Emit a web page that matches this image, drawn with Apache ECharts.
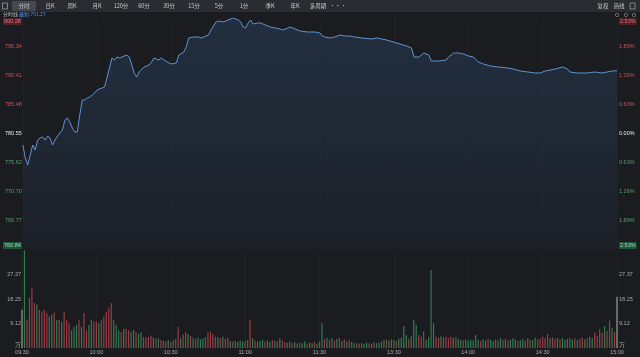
<!DOCTYPE html>
<html><head><meta charset="utf-8">
<script src="https://cdn.jsdelivr.net/npm/echarts@6/dist/echarts.min.js"></script>
<style>html,body{margin:0;padding:0;background:#1b1c20}#c{width:640px;height:357px}</style>
</head><body><div id="c"></div>
<script>
const timeLabels = ['09:30','10:00','10:30','11:00','11:30','13:30','14:00','14:30','15:00'];
const basePrice = 780.55;
const priceTicks = [760.84, 765.77, 770.70, 775.62, 780.55, 785.48, 790.41, 795.34, 800.28];
const volTicks = [0, 9.12, 18.25, 27.37];
const toolbarItems = ['分时','日K','周K','月K','120分','60分','30分','15分','5分','1分','季K','年K','多周期','···'];
const legendName = '分时线';
const latestPrice = '791.27';

const priceMinutes = [0,1,2,3,4,5,6,7,8,9,10,11,12,13,14,15,16,17,18,19,20,21,22,23,24,25,26,27,28,29,30,32,33,34,36,37,38,39,40,42,43,44,45,46,47,49,51,52,53,55,56,57,59,60,62,63,65,66,67,69,71,72,73,75,76,78,79,81,82,83,85,87,88,89,90,91,92,93,95,96,98,100,102,104,105,107,108,110,112,115,118,120,121,122,124,126,128,130,132,134,137,141,143,147,151,155,157,158,160,162,164,165,168,171,172,174,176,178,180,182,184,186,189,192,196,198,201,204,207,209,211,213,215,218,220,221,224,228,231,234,236,238,240];
const priceValues = [778.60,776.38,775.18,776.89,778.60,777.74,779.45,779.79,779.96,779.45,780.13,779.79,778.60,779.45,780.13,780.65,781.16,782.86,783.21,782.52,781.50,780.82,780.82,783.72,786.28,786.28,786.62,786.79,787.13,787.47,787.99,788.33,788.50,790.04,793.45,793.11,793.62,793.45,793.62,793.96,793.62,792.26,790.89,790.21,791.06,791.91,792.26,792.77,793.45,793.11,793.45,793.11,792.60,792.43,792.60,793.96,794.47,795.33,796.87,797.04,797.04,796.87,797.04,797.38,798.23,799.60,799.77,799.60,799.77,799.94,800.28,799.94,799.60,798.74,798.57,799.43,799.94,799.26,799.43,799.43,799.08,798.74,798.57,798.40,798.23,798.57,798.74,798.40,798.06,797.89,797.89,797.72,797.21,797.04,796.87,797.04,797.38,797.21,797.21,797.04,796.87,796.69,796.87,796.52,796.01,795.50,795.16,793.62,793.62,794.30,793.96,792.94,792.94,793.11,793.62,794.30,794.30,794.13,793.79,793.62,792.77,792.43,792.08,791.91,791.74,791.57,791.23,791.06,790.89,790.89,791.23,791.40,791.57,791.91,791.57,791.06,790.89,790.89,791.06,790.89,791.06,791.23,791.27];

const volumes = [
14.2,36.4,10.5,18.7,22.5,16.8,16.2,14.2,13.5,14.2,
13.0,11.6,12.3,13.2,10.4,10.4,9.8,13.5,10.4,9.2,
6.6,7.9,8.6,10.4,7.9,13.0,6.6,8.6,10.4,9.8,
9.8,9.2,10.4,11.6,13.5,14.8,16.8,10.4,8.6,6.6,
6.0,7.2,7.2,6.6,6.0,6.8,6.0,5.3,6.0,4.1,
3.8,4.1,4.7,3.8,3.5,3.5,3.0,2.6,2.4,3.0,
2.2,2.8,3.4,7.8,3.6,5.0,6.0,5.2,4.4,3.6,
3.4,3.8,3.2,3.6,4.0,5.8,6.1,5.2,4.2,4.0,
3.6,4.2,3.4,3.8,2.6,2.4,2.6,2.2,2.8,2.4,
2.6,3.0,10.4,3.6,2.8,2.4,2.6,3.0,2.4,2.8,
2.2,3.0,2.6,2.4,3.6,2.8,2.2,2.0,2.4,1.8,
2.2,1.6,2.0,1.8,2.4,1.6,2.0,1.8,2.2,1.6,
2.4,9.2,3.4,3.8,3.0,3.6,2.8,3.4,3.8,2.6,
3.2,2.4,2.8,2.2,1.8,2.0,1.6,1.8,1.6,2.0,
1.8,1.6,2.2,1.8,2.0,2.4,3.0,3.2,2.8,3.2,
3.0,2.6,3.4,3.8,8.2,4.8,3.4,4.6,10.4,8.6,
4.8,4.2,6.1,3.0,4.0,29.0,9.2,4.2,3.8,4.4,
4.0,4.2,3.6,4.2,3.8,4.0,3.4,3.0,2.8,3.2,
2.6,3.0,2.8,4.8,3.0,2.6,3.2,2.8,3.4,3.0,
2.6,3.2,2.8,3.6,3.0,3.4,2.8,3.0,3.6,3.2,
2.6,3.0,3.4,2.8,3.6,3.2,3.0,3.8,3.2,3.6,
4.2,3.8,5.2,3.6,4.0,3.4,3.8,3.2,3.6,3.0,
3.4,3.8,3.2,3.6,3.0,3.4,3.8,3.2,3.6,4.2,
3.8,5.8,4.6,7.0,5.6,8.2,6.2,10.2,7.4,6.0,19.1];
// u = up minute (red), d = down minute (green), n = neutral (grey)
const volDirs = [
'nduuuuduuu','uddududuuu','ddduduuddu','uduuuuuddd',
'uduudduddu','uuudududud','uduuduudud','uddduuuuud',
'uduududddd','uuududddud','dududuuddu','ddudduddud',
'ddudududud','ududdudddd','ududdddudd','duddddudd d'.replace(' ',''),
'uuudddduud','uuuududdud','ddddduddud','duddududdd',
'uddududduu','uuuduududd','ddduduudud','duuuuduudun'
].join('');

const C_UP = '#c8545b', C_DN = '#4fa36c';
const fmtPrice = v => v.toFixed(2);
const pct = v => (Math.abs(v - basePrice) / basePrice * 100).toFixed(2) + '%';
const styleKey = (v) => {
  if (Math.abs(v - basePrice) < 0.01) return 'b';
  if (Math.abs(v - priceTicks[priceTicks.length-1]) < 0.01) return 'ut';
  if (Math.abs(v - priceTicks[0]) < 0.01) return 'dt';
  return v > basePrice ? 'u' : 'd';
};
const FS = 5.5, FF = '"Liberation Sans", Arial, sans-serif';
const rich = {
  u:{color:C_UP,fontSize:FS,fontFamily:FF},
  d:{color:C_DN,fontSize:FS,fontFamily:FF},
  b:{color:'#e8e8e8',fontSize:FS,fontFamily:FF},
  ut:{color:'#e6707a',backgroundColor:'#4a2328',fontSize:FS,fontFamily:FF,padding:[0.5,1]},
  dt:{color:'#a8d8b8',backgroundColor:'#1f5538',fontSize:FS,fontFamily:FF,padding:[0.5,1]}
};

const lineData = priceMinutes.map((m, i) => [m, priceValues[i]]);
const volData = volumes.map((v, i) => {
  const d = volDirs[i] || 'n';
  const col = d === 'u' ? '#983d45' : d === 'd' ? '#317c4f' : '#9a9a9a';
  return {value: [i, v], itemStyle: {color: col}};
});

const G0 = {left: 22, right: 23, top: 18, height: 231};
const G1 = {left: 22, right: 23, top: 250, height: 98};

const graphics = [
  {type:'rect', shape:{x:0,y:0,width:640,height:12}, style:{fill:'#2a2c31'}, z:10},
  {type:'rect', shape:{x:12,y:1,width:24,height:10,r:1}, style:{fill:'#45484e'}, z:11},
  {type:'rect', shape:{x:2.5,y:3,width:5,height:6}, style:{fill:'none',stroke:'#9a9a9a',lineWidth:0.8}, z:11},
  {type:'rect', shape:{x:630,y:3,width:5,height:6}, style:{fill:'none',stroke:'#9a9a9a',lineWidth:0.8}, z:11},
  {type:'text', x:603, y:6, style:{text:'复权', fill:'#c8c8c8', font:'5.5px "Noto Sans CJK SC"', textAlign:'center', textVerticalAlign:'middle'}, z:12},
  {type:'text', x:619, y:6, style:{text:'画线', fill:'#c8c8c8', font:'5.5px "Noto Sans CJK SC"', textAlign:'center', textVerticalAlign:'middle'}, z:12},
  {type:'text', x:3, y:14.5, style:{text:legendName, fill:'#b8b8b8', font:'5px "Noto Sans CJK SC"', textVerticalAlign:'middle'}, z:12},
  {type:'text', x:19, y:14.5, style:{text:'最新:' + latestPrice, fill:'#4d8fe0', font:'5px "Noto Sans CJK SC"', textVerticalAlign:'middle'}, z:12}
];
const tbCenters = [24, 50, 72, 97, 121, 144, 169, 194, 219, 244, 270, 295, 318, 338];
toolbarItems.forEach((t, i) => {
  graphics.push({type:'text', x:tbCenters[i], y:6, style:{text:t, fill:'#c8c8c8', font:'5.5px "Noto Sans CJK SC"', textAlign:'center', textVerticalAlign:'middle'}, z:12});
});
[617, 626, 634].forEach(x => graphics.push({type:'circle', shape:{cx:x, cy:15, r:1.7}, style:{fill:'none', stroke:'#8a8a8a', lineWidth:0.7}, z:12}));

const chart = echarts.init(document.getElementById('c'), null, {renderer:'canvas'});
chart.setOption({
  backgroundColor: '#1b1c20',
  animation: false,
  grid: [G0, G1],
  graphic: graphics,
  xAxis: [
    {type:'value', gridIndex:0, min:0, max:240, interval:30,
     axisLine:{show:false}, axisTick:{show:false}, axisLabel:{show:false},
     splitLine:{show:true, lineStyle:{color:'rgba(255,255,255,0.025)', width:1}}},
    {type:'value', gridIndex:1, min:0, max:240, interval:30,
     axisLine:{show:false}, axisTick:{show:false},
     axisLabel:{show:true, color:'#a8a8a8', fontSize:FS, fontFamily:FF, margin:1.5,
       showMinLabel:true, showMaxLabel:true,
       formatter: v => timeLabels[Math.round(v / 30)] || ''},
     splitLine:{show:true, lineStyle:{color:'rgba(255,255,255,0.025)', width:1}}}
  ],
  yAxis: [
    {type:'value', gridIndex:0, position:'left', min:priceTicks[0], max:priceTicks[priceTicks.length-1], scale:true,
     axisLine:{show:false}, axisTick:{show:false}, splitLine:{show:false},
     axisLabel:{show:true, customValues:priceTicks, margin:1, align:'right',
       verticalAlignMaxLabel:'top', verticalAlignMinLabel:'bottom',
       formatter:(v) => '{' + styleKey(v) + '|' + fmtPrice(v) + '}', rich:rich}},
    {type:'value', gridIndex:0, position:'right', min:priceTicks[0], max:priceTicks[priceTicks.length-1], scale:true,
     axisLine:{show:false}, axisTick:{show:false}, splitLine:{show:false},
     axisLabel:{show:true, customValues:priceTicks, margin:2, align:'left',
       verticalAlignMaxLabel:'top', verticalAlignMinLabel:'bottom',
       formatter:(v) => '{' + styleKey(v) + '|' + pct(v) + '}', rich:rich}},
    {type:'value', gridIndex:1, position:'left', min:0, max:36.49,
     axisLine:{show:false}, axisTick:{show:false}, splitLine:{show:false},
     axisLabel:{show:true, customValues:volTicks, margin:1, align:'right', color:'#a8a8a8', fontSize:FS, fontFamily:FF,
       verticalAlignMinLabel:'bottom',
       formatter:(v) => v === 0 ? '万' : v.toFixed(2)}},
    {type:'value', gridIndex:1, position:'right', min:0, max:36.49,
     axisLine:{show:false}, axisTick:{show:false}, splitLine:{show:false},
     axisLabel:{show:true, customValues:volTicks, margin:2, align:'left', color:'#a8a8a8', fontSize:FS, fontFamily:FF,
       verticalAlignMinLabel:'bottom',
       formatter:(v) => v === 0 ? '万' : v.toFixed(2)}}
  ],
  series: [
    {type:'line', xAxisIndex:0, yAxisIndex:0, data:lineData, symbol:'none', smooth:false,
     lineStyle:{color:'#5f92d0', width:1},
     areaStyle:{origin:'start', color:new echarts.graphic.LinearGradient(0,0,0,1,[
       {offset:0, color:'#25374d'}, {offset:1, color:'#1d232c'}])}},
    {type:'bar', xAxisIndex:1, yAxisIndex:2, data:volData, barWidth:1.2, large:false}
  ]
});
</script></body></html>
